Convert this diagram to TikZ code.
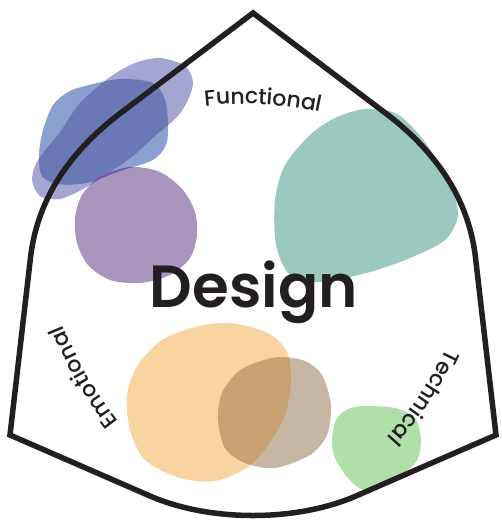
\documentclass[tikz,border=0pt]{standalone}
\usepackage{fontspec}
\setmainfont{Poppins}
\newfontfamily\designfont{Poppins SemiBold}
\newfontfamily\labelfont{Poppins Medium}
\usetikzlibrary{decorations.text}
\definecolor{outline}{RGB}{35,31,32}
\definecolor{lavender}{RGB}{165,165,210}
\definecolor{blueonly}{RGB}{138,160,208}
\definecolor{bluelav}{RGB}{107,120,182}
\definecolor{purp}{RGB}{169,148,189}
\definecolor{purpdark}{RGB}{110,92,162}
\definecolor{teal}{RGB}{156,201,191}
\definecolor{orng}{RGB}{248,212,160}
\definecolor{brwn}{RGB}{199,182,163}
\definecolor{orbr}{RGB}{200,162,114}
\definecolor{grn}{RGB}{177,223,170}
\def\blobL{plot[smooth cycle] coordinates {(160,-58) (185,-66) (193,-82) (188,-100) (177,-117) (155,-136) (133,-156) (110,-172) (85,-188) (60,-199) (40,-196) (32,-180) (38,-160) (60,-132) (80,-103) (110,-77) (135,-63)}}
\def\blobB{plot[smooth cycle] coordinates {(53,-105) (68,-92) (85,-86) (120,-79) (153,-83) (165,-100) (168,-125) (166,-145) (153,-160) (120,-171) (87,-183) (58,-184) (42,-176) (39,-155) (43,-130)}}
\def\blobP{plot[smooth cycle] coordinates {(130,-167) (160,-172) (183,-190) (195,-212) (197,-235) (190,-258) (170,-275) (140,-283) (110,-280) (88,-265) (77,-243) (75,-218) (82,-195) (100,-177)}}
\def\blobT{plot[smooth cycle] coordinates {(365,-109) (397,-114) (425,-142) (450,-185) (458,-215) (445,-240) (410,-258) (370,-272) (320,-282) (290,-275) (276,-245) (275,-200) (285,-165) (310,-135) (335,-118)}}
\def\blobO{plot[smooth cycle] coordinates {(230,-323) (268,-333) (287,-352) (291,-380) (285,-415) (268,-445) (248,-467) (215,-481) (180,-478) (145,-460) (130,-430) (127,-395) (138,-365) (162,-340) (195,-327)}}
\def\blobR{plot[smooth cycle] coordinates {(280,-357) (305,-361) (322,-375) (331,-405) (327,-435) (310,-455) (275,-468) (245,-463) (225,-448) (218,-420) (222,-393) (238,-372) (258,-362)}}
\def\blobG{plot[smooth cycle] coordinates {(365,-406) (395,-408) (415,-418) (421,-440) (416,-462) (395,-478) (365,-490) (348,-478) (335,-458) (332,-440) (336,-420) (348,-409)}}
\tikzset{
  shell/.style={draw=outline, line width=5.5pt, line join=miter},
  arclabel/.style={decorate, decoration={text along path, text align=center,
      text={|\labelfont\fontsize{22}{22}\selectfont\color{outline}|#1}}}
}
\begin{document}
\begin{tikzpicture}[x=1pt,y=1pt]
\useasboundingbox (0,0) rectangle (501,-524);
% blobs
\fill[lavender] \blobL;
\fill[blueonly] \blobB;
\begin{scope}\clip \blobB; \fill[bluelav] \blobL; \end{scope}
\fill[purp] \blobP;
\begin{scope}\clip \blobP; \fill[purpdark] \blobB; \fill[purpdark] \blobL; \end{scope}
\fill[teal] \blobT;
\fill[orng] \blobO;
\fill[brwn] \blobR;
\begin{scope}\clip \blobO; \fill[orbr] \blobR; \end{scope}
\fill[grn] \blobG;
% outline
\draw[shell] (253,-13) -- (118,-115) .. controls (60,-160) and (35,-210) .. (30,-262)
  -- (10,-435) -- (150,-496) .. controls (210,-522) and (296,-522) .. (356,-496)
  -- (496,-435) -- (476,-262) .. controls (471,-210) and (446,-160) .. (388,-115) -- cycle;
% labels
\path[arclabel=Functional] (243.8,-470) ++(107:366) arc[start angle=107, end angle=67, radius=366];
\path[arclabel=Emotional] (433.8,-175.6) ++(229.9:400) arc[start angle=229.9, end angle=189.9, radius=400];
\path[arclabel=Technical] (128.1,-201.8) ++(346.5:350) arc[start angle=346.5, end angle=306.5, radius=350];
\node[anchor=base, inner sep=0pt, text=outline, font=\designfont\fontsize{59.5}{59.5}\selectfont] (design) at (254,-307) {Design};
\end{tikzpicture}
\end{document}
